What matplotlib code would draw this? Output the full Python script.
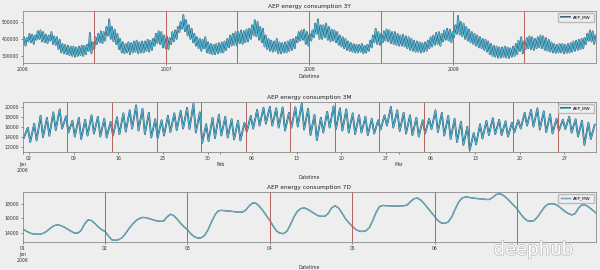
import matplotlib
matplotlib.use('Agg')
import matplotlib.pyplot as plt
import matplotlib.dates as mdates
import matplotlib.patheffects as pe
import numpy as np
import pandas as pd

# --- panel 1: daily sums 2006-2009, one weekday high and one weekend low per week (x1000) ---
week_high = [
    410, 405, 430, 425, 420, 445, 450, 440, 425, 420, 440, 415, 410,
    395, 370, 365, 360, 355, 355, 350, 355, 360, 360, 365, 435, 380,
    410, 430, 445, 440, 470, 515, 470, 455, 430, 400, 380, 370, 380,
    375, 385, 390, 380, 385, 385, 395, 390, 400, 430, 445, 440, 420, 415,
    405, 440, 450, 470, 500, 540, 510, 480, 460, 430, 410, 400,
    395, 410, 380, 370, 365, 370, 375, 380, 385, 400, 420, 430, 440,
    440, 450, 445, 455, 460, 480, 510, 500, 470, 460, 420, 400, 390, 385,
    400, 380, 375, 380, 385, 395, 400, 410, 440, 450, 455, 440, 430,
    450, 490, 515, 480, 480, 490, 470, 455, 450, 440, 420, 410, 400,
    385, 375, 370, 365, 365, 370, 360, 365, 390, 420, 460, 440, 430,
    445, 455, 450, 440, 440, 430, 420, 425, 415, 410, 400, 390, 385,
    380, 375, 380, 390, 410, 420, 435, 440, 430, 450, 460, 455, 440,
    480, 535, 500, 490, 470, 455, 440, 430, 420, 410, 400, 395, 385,
    370, 360, 355, 350, 350, 355, 350, 345, 355, 370, 390, 410, 385,
    405, 415, 410, 400, 410, 420, 415, 405, 395, 380, 370, 365, 370,
    370, 365, 370, 375, 385, 390, 395, 400, 405, 430, 450, 445, 420,
]
week_low = [
    375, 360, 385, 380, 370, 395, 400, 385, 380, 375, 390, 370, 365,
    340, 320, 315, 310, 305, 300, 295, 300, 305, 300, 310, 330, 315,
    340, 370, 380, 375, 390, 420, 400, 385, 370, 340, 320, 315, 320,
    310, 320, 325, 315, 320, 320, 330, 325, 335, 360, 375, 370, 350, 345,
    340, 370, 385, 400, 440, 460, 445, 420, 400, 380, 360, 345,
    330, 345, 320, 315, 310, 310, 315, 320, 320, 335, 350, 360, 365,
    360, 375, 370, 380, 385, 400, 420, 415, 395, 380, 355, 340, 330, 325,
    330, 315, 315, 320, 320, 330, 335, 345, 380, 390, 395, 370, 360,
    390, 410, 430, 400, 400, 410, 395, 385, 390, 380, 365, 355, 345,
    335, 330, 325, 320, 320, 325, 315, 320, 330, 350, 380, 370, 365,
    380, 390, 385, 375, 370, 365, 360, 360, 355, 345, 335, 330, 325,
    325, 320, 325, 330, 345, 355, 365, 370, 360, 385, 395, 390, 380,
    410, 430, 425, 415, 400, 390, 380, 370, 360, 350, 345, 335, 325,
    310, 300, 295, 290, 290, 295, 290, 288, 295, 300, 310, 330, 315,
    340, 345, 340, 335, 345, 350, 345, 335, 330, 325, 320, 318, 320,
    320, 315, 318, 320, 325, 330, 335, 340, 345, 370, 390, 385, 370,
]

# --- panel 2: hourly Jan-Mar 2006, daily low and daily evening peak ---
day_low_3m = [
    13750, 12900, 13200, 13850, 14150, 15300, 15600, 14800, 14000, 13500,
    14200, 14600, 14000, 13800, 14200, 14500, 15000, 15600, 15200, 14500,
    13800, 13700, 14200, 14900, 15300, 15600, 15500, 14800, 12700, 13100,
    13700,
    14200, 13800, 13400, 13200, 15000, 15600, 16200, 16600, 16200, 15800,
    15200, 15800, 16000, 15400, 14300, 13300, 14800, 15800, 15500, 15200,
    14800, 14500, 14800, 14300, 14600, 15400, 16200, 15800,
    15100, 14600, 14300, 14000, 14600, 15500, 14900, 14200, 13500, 12900,
    12300, 11300, 12400, 13600, 14300, 14500, 14300, 14000, 14800, 15600,
    16200, 16000, 15400, 14900, 14600, 15200, 15500, 14800, 14000, 12300,
    13500,
]
day_high_3m = [
    15800, 16600, 18200, 17800, 18900, 19500, 18100, 17200, 17800, 17400,
    18300, 18000, 17600, 17000, 17900, 18700, 19300, 20300, 19600, 18800,
    17500, 17300, 18200, 18700, 19200, 19800, 20600, 18900, 16500, 17800,
    18400,
    18000, 17500, 17200, 16800, 18200, 19400, 19800, 20000, 19700, 19900,
    18800, 19900, 20700, 19600, 18400, 17800, 19000, 20100, 19700, 19500,
    18700, 18300, 18000, 17600, 17300, 18300, 20000, 19300,
    18800, 18300, 17800, 17300, 17600, 19300, 18800, 18200, 17600, 17000,
    16000, 14700, 16500, 17200, 17700, 17400, 17100, 16800, 17300, 18800,
    19400, 19700, 19100, 18500, 17600, 17400, 18000, 17500, 17200, 16800,
    16400,
]

# --- panel 3: hourly 2006-01-01 .. 2006-01-07 ---
hourly_7d = [
    14500, 14200, 13950, 13800, 13750, 13770, 13900, 14200, 14600, 14950, 15100, 15000,
    14800, 14500, 14200, 13950, 13900, 14300, 15200, 15800, 15700, 15300, 14800, 14400,
    14150, 13500, 12950, 12900, 13000, 13300, 13900, 14600, 15200, 15700, 16000, 16150,
    16100, 15950, 15800, 15650, 15600, 15600, 16200, 16600, 16400, 15900, 15300, 14800,
    14400, 13800, 13400, 13200, 13250, 13600, 14400, 15500, 16500, 17100, 17150, 17100,
    17050, 17000, 16950, 16900, 16900, 17200, 17800, 18200, 18150, 17700, 17100, 16400,
    15700, 14900, 14200, 13900, 13850, 14200, 15100, 16200, 17000, 17400, 17500, 17300,
    17000, 16700, 16400, 16300, 16300, 16700, 17500, 17800, 17500, 16800, 16000, 15400,
    14900, 14450, 14200, 14150, 14250, 14700, 15700, 16900, 17700, 17850, 17800, 17800,
    17750, 17750, 17800, 17800, 17900, 18400, 18800, 18900, 18600, 18100, 17500, 16900,
    16300, 15700, 15350, 15300, 15500, 16200, 17300, 18300, 18900, 19050, 19000, 18900,
    18850, 18800, 18750, 18700, 18700, 19000, 19400, 19500, 19300, 18900, 18400, 17900,
    17400, 16700, 16100, 15700, 15600, 15700, 16200, 16900, 17600, 18000, 18100, 18050,
    17800, 17400, 17000, 16700, 16500, 16700, 17500, 17950, 17900, 17600, 17200, 16800,
]

bg = '#eeeeee'
line_col = '#58b7d4'
edge_col = '#1d4f66'
red_col = '#b8615e'
fs = 3.3

plt.rcParams['font.family'] = 'DejaVu Sans'
fig = plt.figure(figsize=(6, 2.7), dpi=100, facecolor=bg)

def style(ax, title):
    ax.set_facecolor(bg)
    for s in ax.spines.values():
        s.set_color('#8a8a8a')
        s.set_linewidth(0.6)
    ax.tick_params(which='both', labelsize=fs, length=1.5, width=0.4, pad=1.5, colors='#333333')
    ax.set_title(title, fontsize=4.2, pad=2, color='#222222')
    ax.set_xlabel('Datetime', fontsize=fs, labelpad=1.5, color='#333333')
    ax.legend(loc='upper right', fontsize=3, frameon=True, facecolor=bg, edgecolor='#bbbbbb',
              handlelength=2.2, borderpad=0.6, framealpha=1)

fx = [pe.Stroke(linewidth=1.25, foreground=edge_col), pe.Normal()]

# panel 1
start = pd.Timestamp('2006-01-01')
t1 = []
v1 = []
for i in range(len(week_high)):
    t1.append(start + pd.Timedelta(days=7 * i))
    v1.append(week_low[i] * 1000)
    t1.append(start + pd.Timedelta(days=7 * i + 3))
    v1.append(week_high[i] * 1000)
ax1 = fig.add_axes([0.038, 0.767, 0.955, 0.193])
ax1.plot(t1, v1, color=line_col, lw=0.7, path_effects=fx, label='AEP_MW')
for d in pd.date_range('2006-07-01', '2009-07-01', freq='6MS'):
    ax1.axvline(d, color=red_col, lw=0.7)
ax1.set_xlim(pd.Timestamp('2006-01-01'), pd.Timestamp('2009-12-31'))
ax1.set_ylim(259000, 565000)
ax1.set_yticks([300000, 400000, 500000])
ax1.xaxis.set_major_locator(mdates.YearLocator())
ax1.xaxis.set_major_formatter(mdates.DateFormatter('%Y'))
style(ax1, 'AEP energy consumption 3Y')

# panel 2
t2 = []
v2 = []
for i in range(len(day_low_3m)):
    t2.append(start + pd.Timedelta(days=i, hours=4))
    v2.append(day_low_3m[i])
    t2.append(start + pd.Timedelta(days=i, hours=19))
    v2.append(day_high_3m[i])
ax2 = fig.add_axes([0.038, 0.437, 0.955, 0.186])
ax2.plot(t2, v2, color=line_col, lw=0.7, path_effects=fx, label='AEP_MW')
for d in pd.date_range('2006-01-08', '2006-03-26', freq='7D'):
    ax2.axvline(d, color=red_col, lw=0.7)
ax2.set_xlim(pd.Timestamp('2006-01-01'), pd.Timestamp('2006-03-31 23:00'))
ax2.set_ylim(10900, 21000)
ax2.set_yticks([12000, 14000, 16000, 18000, 20000])
ax2.xaxis.set_major_locator(mdates.MonthLocator())
ax2.xaxis.set_major_formatter(mdates.DateFormatter('%b'))
ax2.xaxis.set_minor_locator(mdates.WeekdayLocator(byweekday=mdates.MO))
ax2.xaxis.set_minor_formatter(mdates.DateFormatter('%d'))
style(ax2, 'AEP energy consumption 3M')
ax2.tick_params(axis='x', which='major', pad=6)
labs = [t.get_text() for t in ax2.get_xticklabels()]
ax2.set_xticks(ax2.get_xticks())
labs[0] = 'Jan\n2006'
ax2.set_xticklabels(labs)

# panel 3
t3 = pd.date_range('2006-01-01', periods=len(hourly_7d), freq='h')
ax3 = fig.add_axes([0.038, 0.103, 0.955, 0.187])
ax3.plot(t3, hourly_7d, color='#6db3c4', lw=0.7,
         path_effects=[pe.Stroke(linewidth=1.0, foreground='#3a6573'), pe.Normal()], label='AEP_MW')
for d in pd.date_range('2006-01-02', '2006-01-07', freq='D'):
    ax3.axvline(d, color=red_col, lw=0.7)
ax3.set_xlim(t3[0], t3[-1])
ax3.set_ylim(12630, 19800)
ax3.set_yticks([14000, 16000, 18000])
ax3.xaxis.set_major_locator(mdates.DayLocator())
ax3.xaxis.set_major_formatter(mdates.DateFormatter('%d'))
style(ax3, 'AEP energy consumption 7D')
labs = [t.get_text() for t in ax3.get_xticklabels()]
ax3.set_xticks(ax3.get_xticks())
labs[0] = '01\nJan\n2006'
labs[-1] = ''
ax3.set_xticklabels(labs)

fig.text(0.955, 0.075, 'deephub', fontsize=13, color='white', ha='right', va='center',
         path_effects=[pe.Stroke(linewidth=1.0, foreground='#b8b8b8'), pe.Normal()])

fig.savefig('out.png', dpi=100, facecolor=bg)
